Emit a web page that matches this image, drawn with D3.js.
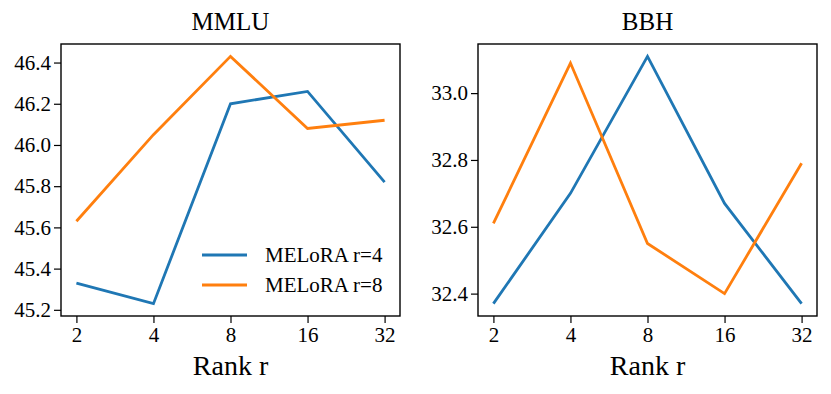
<!DOCTYPE html>
<html>
<head>
<script src="https://d3js.org/d3.v7.min.js"></script>
<style>
  body { margin: 0; background: #fff; }
  svg text { font-family: "Liberation Serif", "Times New Roman", serif; fill: #000; }
  .axis path, .axis line { stroke: #000; }
</style>
</head>
<body>
<div id="chart"></div>
<script>
// Data
const ranks = ["2", "4", "8", "16", "32"];
const seriesNames = ["MELoRA r=4", "MELoRA r=8"];
const colors = ["#1f77b4", "#ff7f0e"];

const mmluR4 = [45.33, 45.23, 46.20, 46.26, 45.82];
const mmluR8 = [45.63, 46.05, 46.43, 46.08, 46.12];
const bbhR4 = [32.37, 32.70, 33.11, 32.67, 32.37];
const bbhR8 = [32.61, 33.09, 32.55, 32.40, 32.79];

const mmluTicks = [45.2, 45.4, 45.6, 45.8, 46.0, 46.2, 46.4];
const bbhTicks = [32.4, 32.6, 32.8, 33.0];

const width = 831, height = 394;
const serif = "'Liberation Serif', 'Times New Roman', serif";
const svg = d3.select("#chart").append("svg")
  .attr("width", width).attr("height", height);

const plotTop = 44, plotBottom = 316;

function panel(opts) {
  const { left, right, title, series, yTicks, legend } = opts;
  const g = svg.append("g");

  // matplotlib-style 5% margins
  const x = d3.scaleLinear().domain([-0.2, ranks.length - 1 + 0.2]).range([left, right]);
  const all = series.flat();
  const lo = d3.min(all), hi = d3.max(all), pad = (hi - lo) * 0.05;
  const y = d3.scaleLinear().domain([lo - pad, hi + pad]).range([plotBottom, plotTop]);

  const line = d3.line().x((d, i) => x(i)).y(d => y(d));
  series.forEach((s, k) => {
    g.append("path").datum(s)
      .attr("fill", "none")
      .attr("stroke", colors[k])
      .attr("stroke-width", 2.8)
      .attr("d", line);
  });

  // frame
  g.append("rect")
    .attr("x", left).attr("y", plotTop)
    .attr("width", right - left).attr("height", plotBottom - plotTop)
    .attr("fill", "none").attr("stroke", "#000").attr("stroke-width", 1.4);

  const xAxis = g.append("g").attr("class", "axis")
    .attr("transform", `translate(0,${plotBottom})`)
    .call(d3.axisBottom(x).tickValues(d3.range(ranks.length))
      .tickFormat(i => ranks[i]).tickSize(7).tickPadding(4));
  xAxis.attr("font-family", null);
  xAxis.select(".domain").remove();
  xAxis.selectAll("line").attr("stroke-width", 1.2);
  xAxis.selectAll("text").style("font-size", "21px").style("font-family", serif);

  const yAxis = g.append("g").attr("class", "axis")
    .attr("transform", `translate(${left},0)`)
    .call(d3.axisLeft(y).tickValues(yTicks).tickFormat(d3.format(".1f"))
      .tickSize(7).tickPadding(3));
  yAxis.attr("font-family", null);
  yAxis.select(".domain").remove();
  yAxis.selectAll("line").attr("stroke-width", 1.2);
  yAxis.selectAll("text").style("font-size", "21px").style("font-family", serif);

  g.append("text")
    .attr("x", (left + right) / 2).attr("y", 30)
    .attr("text-anchor", "middle")
    .style("font-size", "25px")
    .style("font-family", serif)
    .text(title);

  g.append("text")
    .attr("x", (left + right) / 2).attr("y", 375)
    .attr("text-anchor", "middle")
    .style("font-size", "28px")
    .style("font-family", serif)
    .text("Rank r");

  if (legend) {
    seriesNames.forEach((name, k) => {
      const ly = legend.y + k * 30;
      g.append("line")
        .attr("x1", legend.x).attr("x2", legend.x + 45)
        .attr("y1", ly).attr("y2", ly)
        .attr("stroke", colors[k]).attr("stroke-width", 2.8);
      g.append("text")
        .attr("x", legend.x + 63).attr("y", ly)
        .attr("dy", "0.35em")
        .style("font-size", "21px")
        .style("font-family", serif)
        .text(name);
    });
  }
}

panel({ left: 61, right: 400, title: "MMLU", series: [mmluR4, mmluR8],
        yTicks: mmluTicks, legend: { x: 202, y: 255 } });
panel({ left: 478, right: 817, title: "BBH", series: [bbhR4, bbhR8],
        yTicks: bbhTicks });
</script>
</body>
</html>
